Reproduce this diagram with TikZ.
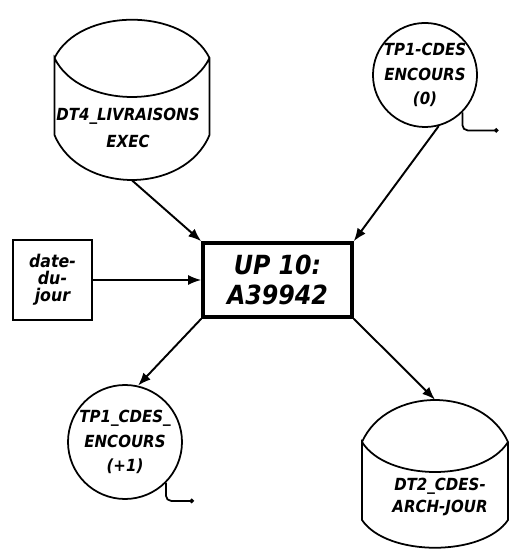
\documentclass[tikz,border=0pt]{standalone}
\usepackage{fontspec}
\newfontfamily\handfont{DejaVu Sans Condensed}
\usetikzlibrary{arrows.meta,calc}

\begin{document}
\begin{tikzpicture}[
  proc/.style={draw,line width=2pt,minimum width=2.98cm,minimum height=1.48cm,
               align=center,font=\handfont\bfseries\itshape\fontsize{15}{17}\selectfont},
  param/.style={draw,line width=1pt,minimum width=1.58cm,minimum height=1.6cm,
               inner sep=1pt,align=center,font=\handfont\bfseries\itshape\fontsize{10}{9.6}\selectfont},
  tape/.style={draw,circle,line width=1pt,inner sep=0pt,align=center,
               font=\handfont\bfseries\itshape\fontsize{9.5}{14}\selectfont},
  drum/.style={inner sep=0pt},
  lbl/.style={align=center,font=\handfont\bfseries\itshape\fontsize{9.5}{15}\selectfont},
  flow/.style={-{Latex[length=2.6mm,width=2mm]},line width=1.1pt},
  tail/.style={-{Circle[length=2.5pt]},line width=1pt,rounded corners=3pt}]

  \useasboundingbox (0,0) rectangle (10.24,10.98);

  \node[proc]  (up10) at (5.55,5.38) {UP 10:\\A39942};
  \node[param] (date) at (1.05,5.38) {date-\\du-\\jour};
  \node[tape,minimum size=2.02cm] (tp0) at (8.5,9.48) {TP1-CDES\\ENCOURS\\(0)};
  \node[tape,minimum size=2.28cm] (tp1) at (2.5,2.14) {TP1\_CDES\_\\ENCOURS\\(+1)};

  % disk files
  \node[drum,minimum width=3.1cm,minimum height=3.2cm] (dt4) at (2.64,8.98) {};
  \begin{scope}[shift={(dt4.center)},line width=1pt]
    \draw (-1.55,0.84) .. controls (-1.05,1.86) and (1.05,1.86) .. (1.55,0.84)
          .. controls (1.05,-0.2) and (-1.05,-0.2) .. (-1.55,0.84)
          -- (-1.55,-0.7) .. controls (-1.05,-1.9) and (1.05,-1.9) .. (1.55,-0.7)
          -- (1.55,0.84);
  \end{scope}
  \node[lbl] (dt4txt) at ($(dt4.center)+(-0.08,-0.56)$) {DT4\_LIVRAISONS\\EXEC};

  \node[drum,minimum width=2.92cm,minimum height=2.96cm] (dt2) at (8.7,1.5) {};
  \begin{scope}[shift={(dt2.center)},line width=1pt]
    \draw (-1.46,0.64) .. controls (-0.96,1.76) and (0.96,1.76) .. (1.46,0.64)
          .. controls (0.96,-0.16) and (-0.96,-0.16) .. (-1.46,0.64)
          -- (-1.46,-0.92) .. controls (-0.96,-1.66) and (0.96,-1.66) .. (1.46,-0.92)
          -- (1.46,0.64);
  \end{scope}
  \node[lbl,font=\handfont\bfseries\itshape\fontsize{9.5}{12}\selectfont]
    (dt2txt) at ($(dt2.center)+(0.1,-0.46)$) {DT2\_CDES-\\ARCH-JOUR};

  % tape tails
  \draw[tail] (tp0.-45) |- ++(0.72,-0.36);
  \draw[tail] (tp1.-45) |- ++(0.56,-0.36);

  % flows
  \draw[flow] (dt4.south) -- (up10.north west);
  \draw[flow] (tp0.-75) -- (up10.north east);
  \draw[flow] (date.east) -- (up10.west |- date.east);
  \draw[flow] (up10.south west) -- (tp1.77);
  \draw[flow] (up10.south east) -- (dt2.north);
\end{tikzpicture}
\end{document}
